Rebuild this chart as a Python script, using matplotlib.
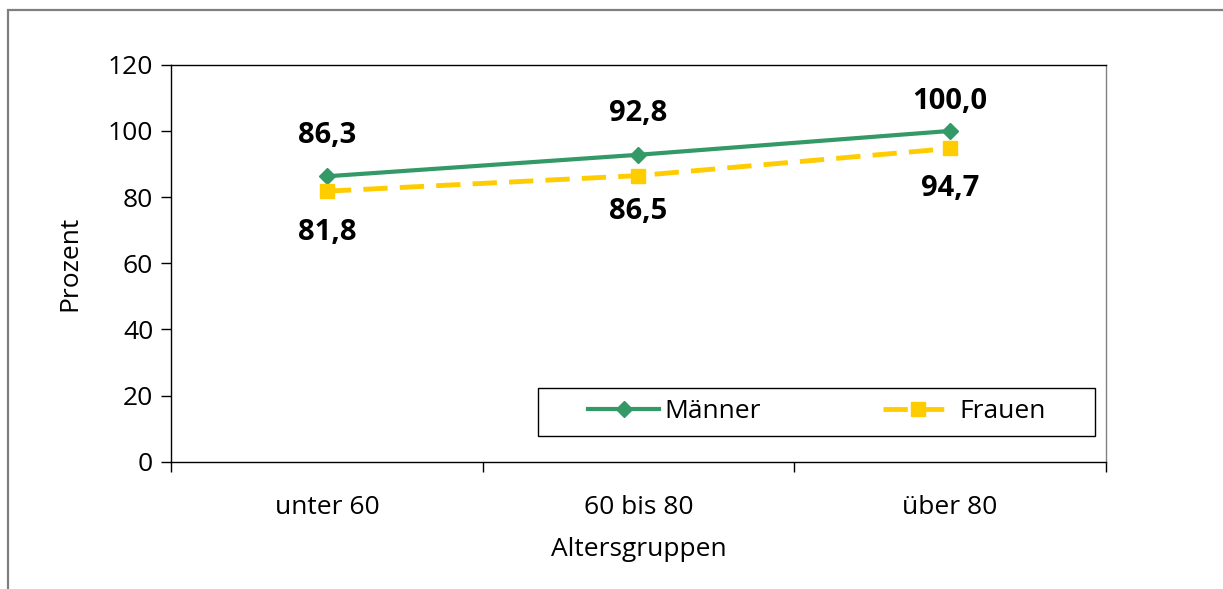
import matplotlib.pyplot as plt
from matplotlib.patches import Rectangle

# data
gruppen = ["unter 60", "60 bis 80", "über 80"]
maenner = [86.3, 92.8, 100.0]
frauen = [81.8, 86.5, 94.7]

plt.rcParams["font.family"] = ["Open Sans", "DejaVu Sans"]

fig = plt.figure(figsize=(12.23, 5.89), dpi=100)
ax = fig.add_axes([0.140, 0.216, 0.764, 0.674])

# outer chart border (left and top visible)
fig.add_artist(Rectangle((8 / 1223, -0.1), 1.2, 1.1 - 10 / 589,
                         transform=fig.transFigure, fill=False,
                         edgecolor="#7f7f7f", linewidth=1.6))

x = range(len(gruppen))
ax.plot(x, maenner, color="#339966", linewidth=3, marker="D", markersize=8,
        label="Männer")
ax.plot(x, frauen, color="#FFCC00", linewidth=3.5, marker="s", markersize=10,
        dashes=(5, 2.5), label="Frauen")

# label offsets in points (above for men, below for women)
off_m = [29, 29.5, 21]
off_f = [-30, -26, -29]
for i in x:
    ax.annotate(f"{maenner[i]:.1f}".replace(".", ","), (i, maenner[i]),
                xytext=(0, off_m[i]), textcoords="offset points", ha="center",
                va="center", fontsize=21, fontweight="bold")
    ax.annotate(f"{frauen[i]:.1f}".replace(".", ","), (i, frauen[i]),
                xytext=(0, off_f[i]), textcoords="offset points", ha="center",
                va="center", fontsize=21, fontweight="bold")

ax.set_xlim(-0.5, 2.5)
ax.set_ylim(0, 120)
ax.set_yticks(range(0, 121, 20))
ax.set_xticks(list(x))
ax.set_xticklabels(gruppen)
ax.set_xticks([-0.5, 0.5, 1.5, 2.5], minor=True)
ax.tick_params(axis="x", which="major", length=0, pad=24, labelsize=19)
ax.tick_params(axis="x", which="minor", length=7, width=1, direction="out")
ax.tick_params(axis="y", length=7, width=1, direction="out", labelsize=19, pad=6)

for s in ax.spines.values():
    s.set_linewidth(1)
ax.spines["right"].set_color("#808080")

ax.set_xlabel("Altersgruppen", fontsize=19, labelpad=12)
ax.set_ylabel("Prozent", fontsize=19, labelpad=18)

# legend box drawn separately so its size matches the original
ax.add_patch(Rectangle((0.393, 0.065), 0.596, 0.121, transform=ax.transAxes,
                       fill=True, facecolor="white", edgecolor="black",
                       linewidth=1, zorder=4))
leg = ax.legend(loc="center", bbox_to_anchor=(0.691, 0.1255), ncol=2,
                fontsize=19, frameon=False, handlelength=2.7,
                handletextpad=0.2, columnspacing=4.6, borderaxespad=0)
leg.set_zorder(5)

fig.savefig("out.png", dpi=100)
